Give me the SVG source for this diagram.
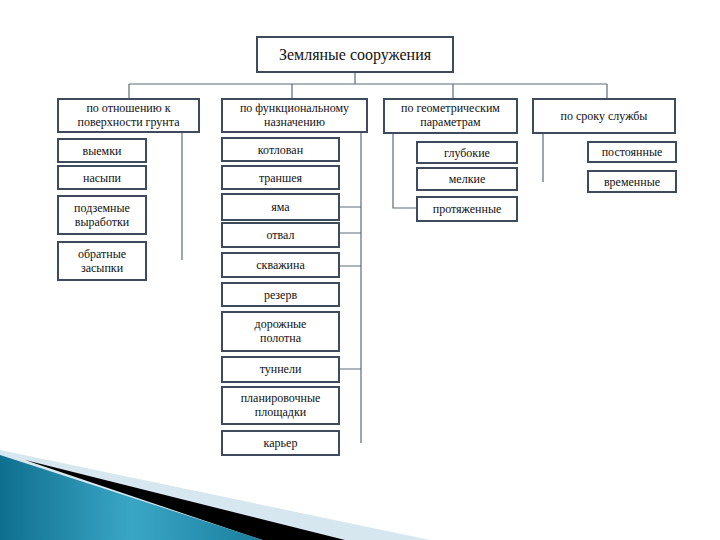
<svg xmlns="http://www.w3.org/2000/svg" width="720" height="540" viewBox="0 0 720 540" font-family="'Liberation Serif', 'DejaVu Serif', serif">
<defs>
<style>
.b{fill:#fff;stroke:#3d4b5c;stroke-width:2}
.t{font-size:12px;fill:#111;text-anchor:middle}
.r{font-size:16px}
.c{fill:none;stroke:#5b6b7b;stroke-width:1.2}
</style>
<linearGradient id="tg" x1="0" y1="0" x2="1" y2="0">
<stop offset="0" stop-color="#0f6f8f"/>
<stop offset="0.5" stop-color="#3aa6c6"/>
<stop offset="1" stop-color="#1a7e9e"/>
</linearGradient>
</defs>
<rect width="720" height="540" fill="#fff"/>
<g id="decor">
<polygon points="0,450 430,540 0,540" fill="#d6e7f0"/>
<polygon points="25,460 345,540 262,540" fill="#000"/>
<polygon points="0,455 263,540 0,540" fill="url(#tg)"/>
</g>
<g id="connectors">
<path class="c" d="M355,72V84M129,84H607M129,84V99M292,84V99M453,84V99M607,84V99"/>
<path class="c" d="M182,132V260"/>
<path class="c" d="M361,132V443M339,207H361M339,233H361M339,266H361M339,369H361"/>
<path class="c" d="M393,133V208H417"/>
<path class="c" d="M543,133V182"/>
</g>
<g id="root"><rect class="b" x="257" y="37" width="196" height="35"/><text class="t r" x="355" y="60">Земляные сооружения</text></g>
<g id="cat1"><rect class="b" x="58" y="99" width="141" height="33"/><text class="t" x="128.5" y="112">по отношению к</text><text class="t" x="128.5" y="126">поверхности грунта</text></g>
<g id="cat2"><rect class="b" x="222" y="99" width="145" height="33"/><text class="t" x="294.5" y="112">по функциональному</text><text class="t" x="294.5" y="126">назначению</text></g>
<g id="cat3"><rect class="b" x="384" y="99" width="133" height="34"/><text class="t" x="450.5" y="112">по геометрическим</text><text class="t" x="450.5" y="126">параметрам</text></g>
<g id="cat4"><rect class="b" x="533" y="99" width="142" height="34"/><text class="t" x="604" y="120">по сроку службы</text></g>
<g id="a1"><rect class="b" x="58" y="139" width="88" height="23"/><text class="t" x="102" y="155">выемки</text></g>
<g id="a2"><rect class="b" x="58" y="166" width="88" height="23"/><text class="t" x="102" y="182">насыпи</text></g>
<g id="a3"><rect class="b" x="58" y="196" width="88" height="38"/><text class="t" x="102" y="212">подземные</text><text class="t" x="102" y="226">выработки</text></g>
<g id="a4"><rect class="b" x="58" y="242" width="88" height="38"/><text class="t" x="102" y="258">обратные</text><text class="t" x="102" y="272">засыпки</text></g>
<g id="b1"><rect class="b" x="222" y="138" width="117" height="23"/><text class="t" x="280.5" y="154">котлован</text></g>
<g id="b2"><rect class="b" x="222" y="166" width="117" height="23"/><text class="t" x="280.5" y="182">траншея</text></g>
<g id="b3"><rect class="b" x="222" y="194" width="117" height="26"/><text class="t" x="280.5" y="211">яма</text></g>
<g id="b4"><rect class="b" x="222" y="223" width="117" height="24"/><text class="t" x="280.5" y="239">отвал</text></g>
<g id="b5"><rect class="b" x="222" y="253" width="117" height="24"/><text class="t" x="280.5" y="269">скважина</text></g>
<g id="b6"><rect class="b" x="222" y="283" width="117" height="23"/><text class="t" x="280.5" y="299">резерв</text></g>
<g id="b7"><rect class="b" x="222" y="312" width="117" height="39"/><text class="t" x="280.5" y="328">дорожные</text><text class="t" x="280.5" y="342">полотна</text></g>
<g id="b8"><rect class="b" x="222" y="357" width="117" height="25"/><text class="t" x="280.5" y="373">туннели</text></g>
<g id="b9"><rect class="b" x="222" y="387" width="117" height="37"/><text class="t" x="280.5" y="402">планировочные</text><text class="t" x="280.5" y="416">площадки</text></g>
<g id="b10"><rect class="b" x="222" y="431" width="117" height="24"/><text class="t" x="280.5" y="447">карьер</text></g>
<g id="c1"><rect class="b" x="417" y="142" width="100" height="21"/><text class="t" x="467" y="157">глубокие</text></g>
<g id="c2"><rect class="b" x="417" y="168" width="100" height="22"/><text class="t" x="467" y="183">мелкие</text></g>
<g id="c3"><rect class="b" x="417" y="197" width="100" height="24"/><text class="t" x="467" y="213">протяженные</text></g>
<g id="d1"><rect class="b" x="588" y="142" width="88" height="20"/><text class="t" x="632" y="156">постоянные</text></g>
<g id="d2"><rect class="b" x="588" y="171" width="88" height="21"/><text class="t" x="632" y="186">временные</text></g>
</svg>
